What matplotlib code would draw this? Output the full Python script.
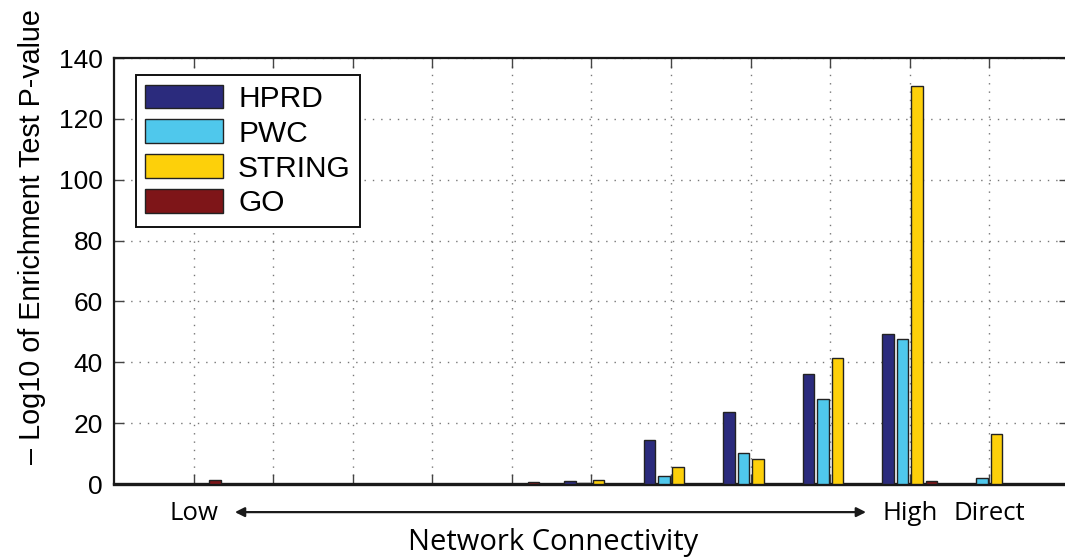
import numpy as np
import matplotlib.pyplot as plt

# -log10 enrichment p-values per connectivity bin (1 = low ... 10 = high, 11 = direct)
bins = np.arange(1, 12)
series = ["HPRD", "PWC", "STRING", "GO"]
hprd = [0, 0, 0, 0, 0, 1.0, 14.5, 23.8, 36.1, 49.3, 0]
pwc = [0, 0, 0, 0, 0, 0.3, 2.7, 10.3, 28.1, 47.6, 1.9]
string = [0, 0, 0, 0, 0, 1.2, 5.5, 8.2, 41.5, 130.9, 16.5]
go = [1.3, 0, 0, 0, 0.5, 0, 0, 0, 0, 1.0, 0]
tick_labels = ["Low", "", "", "", "", "", "", "", "", "High", "Direct"]

colors = ["#2b2b7d", "#4fc8ec", "#fdd00a", "#7e1518"]

fig = plt.figure(figsize=(10.65, 5.58), dpi=100)
ax = fig.add_axes([0.107, 0.1326, 0.8967, 0.7634])

# matlab-style grouped bars: group width 0.727, each bar 80% of its slot
slot = 0.727 / 4
for i, (name, vals, col) in enumerate(zip(series, [hprd, pwc, string, go], colors)):
    ax.bar(bins + (i - 1.5) * slot, vals, width=slot * 0.8, color=col,
           edgecolor="#222222", linewidth=1.0, label=name, zorder=3)

ax.set_xlim(0, 12)
ax.set_ylim(0, 140)
ax.set_yticks(np.arange(0, 141, 20))
ax.set_xticks(bins)
ax.set_xticklabels(tick_labels, family="Open Sans", fontsize=18.5)
ax.tick_params(axis="both", direction="in", length=7, width=1, color="#444444",
               top=True, right=True)
ax.tick_params(axis="x", pad=12)
ax.tick_params(axis="y", labelsize=19, pad=8)
for lab in ax.get_yticklabels():
    lab.set_family("Liberation Sans")

ax.grid(True, linestyle=(0, (1, 5)), color="#777777", linewidth=1.0, zorder=0)
ax.set_axisbelow(True)
for s in ax.spines.values():
    s.set_linewidth(1.6)
    s.set_color("#1a1a1a")
ax.spines["bottom"].set_linewidth(2.4)

ax.set_ylabel("\u2013 Log10 of Enrichment Test P-value", family="Liberation Sans",
              fontsize=20.7)
ax.yaxis.set_label_coords(-0.071, 0.58)

# connectivity arrow between the Low and High labels
trans = ax.get_xaxis_transform()
ax.annotate("", xy=(1.52, -0.066), xytext=(9.45, -0.066), xycoords=trans,
            textcoords=trans,
            arrowprops=dict(arrowstyle="<|-|>", color="#1a1a1a", lw=1.6,
                            mutation_scale=14, shrinkA=0, shrinkB=0),
            annotation_clip=False)
ax.text(5.52, -0.138, "Network Connectivity", transform=trans, ha="center",
        va="center", family="Open Sans", fontsize=21)

leg = ax.legend(loc="upper left", bbox_to_anchor=(0.023, 0.960),
                prop={"family": "Liberation Sans", "size": 21.5},
                fancybox=False, edgecolor="#111111", framealpha=1,
                handlelength=2.6, handleheight=0.85, labelspacing=0.22,
                handletextpad=0.5, borderpad=0.32, borderaxespad=0)
leg.get_frame().set_linewidth(1.4)

fig.savefig("out.png", dpi=100)
